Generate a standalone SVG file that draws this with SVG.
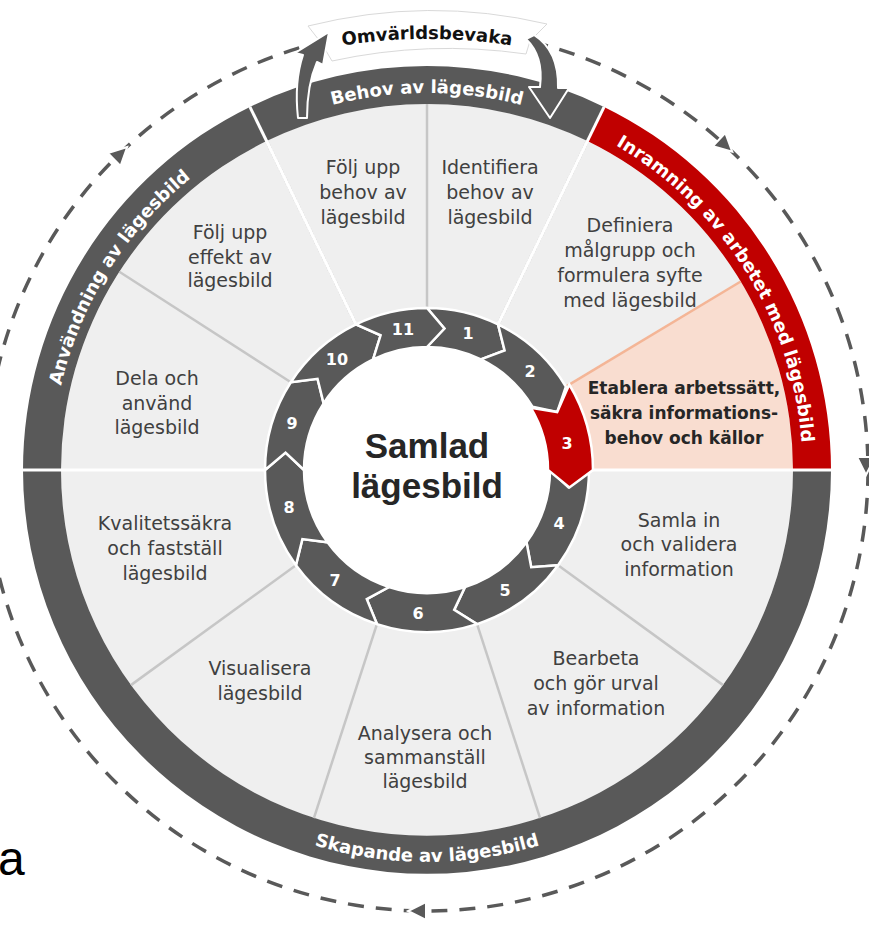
<svg xmlns="http://www.w3.org/2000/svg" xmlns:xlink="http://www.w3.org/1999/xlink" width="869" height="928" viewBox="0 0 869 928">
<defs>
<style>
.band{fill:#595959}
.redband{fill:#c00000}
.arw{fill:#595959;stroke:#fff;stroke-width:2.5;stroke-linejoin:miter}
.arwred{fill:#c00000;stroke:#fff;stroke-width:2.5;stroke-linejoin:miter}
.div{stroke:#c6c6c6;stroke-width:2.5;fill:none}
.wdiv{stroke:#fff;stroke-width:3;fill:none}
.dot{stroke:#d2d2d2;stroke-width:3.5;stroke-dasharray:1.5 1.5;fill:none}
.seg{font-family:"DejaVu Sans",sans-serif;font-size:19px;fill:#404040;text-anchor:middle}
.segb{font-family:"DejaVu Sans",sans-serif;font-size:17px;font-weight:bold;fill:#262626;text-anchor:middle}
.num{font-family:"DejaVu Sans",sans-serif;font-weight:bold;font-size:16px;fill:#fff;text-anchor:middle}
.bt{font-family:"DejaVu Sans",sans-serif;font-weight:bold;font-size:18px;fill:#fff}
.tri{fill:#595959;stroke:#fff;stroke-width:2}
</style>
<path id="pTop" d="M 50 470 A 377 377 0 0 1 804 470"/>
<path id="pRight" d="M 227.22 150.29 A 377 377 0 0 1 626.78 789.71"/>
<path id="pLeft" d="M 227.22 789.71 A 377 377 0 0 1 626.78 150.29"/>
<path id="pBottom" d="M 35 470 A 392 392 0 0 0 819 470"/>
<path id="pOmv" d="M 158 111 A 538 538 0 0 1 696 111"/>
<polygon id="tri" points="10,0 -8,-9 -8,9"/>
</defs>
<rect width="869" height="928" fill="#fff"/>

<g id="connectors">
<circle cx="427" cy="470" r="441" fill="none" stroke="#595959" stroke-width="3.5" stroke-dasharray="16 12"/>
<use xlink:href="#tri" class="tri" transform="translate(120,154) rotate(-44)"/>
<use xlink:href="#tri" class="tri" transform="translate(725,145) rotate(43)"/>
<use xlink:href="#tri" class="tri" transform="translate(866,465) rotate(90)"/>
<use xlink:href="#tri" class="tri" transform="translate(418,911) rotate(180)"/>
</g>

<g id="wheel-background">
<circle cx="427" cy="470" r="366" fill="#efefef"/>
<path d="M 427 470 L 740.72 281.50 A 366 366 0 0 1 793 470 Z" fill="#f9ddd0"/>
<path class="band" d="M 249.90 106.89 A 404 404 0 0 1 604.10 106.89 L 587.44 141.04 A 366 366 0 0 0 266.56 141.04 Z"/>
<path class="redband" d="M 604.10 106.89 A 404 404 0 0 1 831 470 L 793 470 A 366 366 0 0 0 587.44 141.04 Z"/>
<path class="band" d="M 831 470 A 404 404 0 0 1 23 470 L 61 470 A 366 366 0 0 0 793 470 Z"/>
<path class="band" d="M 23 470 A 404 404 0 0 1 249.90 106.89 L 266.56 141.04 A 366 366 0 0 0 61 470 Z"/>
<line class="div" x1="427" y1="308" x2="427" y2="104"/>
<line class="dot" x1="498.02" y1="324.40" x2="587.44" y2="141.04"/>
<line class="wdiv" x1="498.02" y1="324.40" x2="604.10" y2="106.89" stroke-width="2"/>
<line class="dot" x1="355.98" y1="324.40" x2="266.56" y2="141.04"/>
<line class="wdiv" x1="355.98" y1="324.40" x2="249.90" y2="106.89" stroke-width="2"/>
<line x1="565.86" y1="386.56" x2="740.72" y2="281.50" stroke="#f4b596" stroke-width="2.5"/>
<line class="wdiv" x1="589" y1="470" x2="833" y2="470"/>
<line class="wdiv" x1="265" y1="470" x2="21" y2="470"/>
<line class="div" x1="558.06" y1="565.22" x2="723.10" y2="685.13"/>
<line class="div" x1="477.06" y1="624.07" x2="540.10" y2="818.09"/>
<line class="div" x1="376.94" y1="624.07" x2="313.90" y2="818.09"/>
<line class="div" x1="295.94" y1="565.22" x2="130.90" y2="685.13"/>
<line class="div" x1="290.83" y1="382.24" x2="119.35" y2="271.73"/>
<circle cx="427" cy="470" r="123" fill="#fff"/>
</g>

<g id="band-labels">
<text class="bt"><textPath xlink:href="#pTop" startOffset="50%" text-anchor="middle">Behov av lägesbild</textPath></text>
<text class="bt"><textPath xlink:href="#pRight" startOffset="50%" text-anchor="middle">Inramning av arbetet med lägesbild</textPath></text>
<text class="bt"><textPath xlink:href="#pLeft" startOffset="50%" text-anchor="middle">Användning av lägesbild</textPath></text>
<text class="bt"><textPath xlink:href="#pBottom" startOffset="50%" text-anchor="middle">Skapande av lägesbild</textPath></text>
</g>

<g id="step1">
<path class="arw" d="M 427 308 A 162 162 0 0 1 498.02 324.40 L 504.61 350.49 L 480.92 359.45 A 123 123 0 0 0 427 347 L 444.37 328.56 Z"/>
<text class="num" x="468" y="339">1</text>
<text class="seg" x="490" y="173.5">Identifiera</text>
<text class="seg" x="490" y="198.5">behov av</text>
<text class="seg" x="490" y="223.5">lägesbild</text>
</g>
<g id="step2">
<path class="arw" d="M 498.02 324.40 A 162 162 0 0 1 565.86 386.56 L 557.18 412.04 L 532.43 406.65 A 123 123 0 0 0 480.92 359.45 L 504.61 350.49 Z"/>
<text class="num" x="530" y="377">2</text>
<text class="seg" x="630" y="231.5">Definiera</text>
<text class="seg" x="630" y="256.5">målgrupp och</text>
<text class="seg" x="630" y="281.5">formulera syfte</text>
<text class="seg" x="630" y="306.5">med lägesbild</text>
</g>
<g id="step4">
<path class="arw" d="M 589 470 A 162 162 0 0 1 558.06 565.22 L 531.22 567.19 L 526.51 542.30 A 123 123 0 0 0 550 470 L 568.44 487.37 Z"/>
<text class="num" x="559" y="529">4</text>
<text class="seg" x="679" y="526.5">Samla in</text>
<text class="seg" x="679" y="551">och validera</text>
<text class="seg" x="679" y="575.5">information</text>
</g>
<g id="step5">
<path class="arw" d="M 558.06 565.22 A 162 162 0 0 1 477.06 624.07 L 454.19 609.88 L 465.01 586.98 A 123 123 0 0 0 526.51 542.30 L 531.22 567.19 Z"/>
<text class="num" x="505" y="596">5</text>
<text class="seg" x="596" y="664.5">Bearbeta</text>
<text class="seg" x="596" y="689.5">och gör urval</text>
<text class="seg" x="596" y="714.5">av information</text>
</g>
<g id="step6">
<path class="arw" d="M 477.06 624.07 A 162 162 0 0 1 376.94 624.07 L 366.78 599.15 L 388.99 586.98 A 123 123 0 0 0 465.01 586.98 L 454.19 609.88 Z"/>
<text class="num" x="418" y="619">6</text>
<text class="seg" x="425" y="739.5">Analysera och</text>
<text class="seg" x="425" y="763.5">sammanställ</text>
<text class="seg" x="425" y="787.5">lägesbild</text>
</g>
<g id="step7">
<path class="arw" d="M 376.94 624.07 A 162 162 0 0 1 295.94 565.22 L 302.37 539.09 L 327.49 542.30 A 123 123 0 0 0 388.99 586.98 L 366.78 599.15 Z"/>
<text class="num" x="335" y="586">7</text>
<text class="seg" x="260" y="674.5">Visualisera</text>
<text class="seg" x="260" y="699.5">lägesbild</text>
</g>
<g id="step8">
<path class="arw" d="M 295.94 565.22 A 162 162 0 0 1 265 470 L 285.56 452.63 L 304 470 A 123 123 0 0 0 327.49 542.30 L 302.37 539.09 Z"/>
<text class="num" x="289" y="513">8</text>
<text class="seg" x="165" y="529.5">Kvalitetssäkra</text>
<text class="seg" x="165" y="554.5">och fastställ</text>
<text class="seg" x="165" y="579.5">lägesbild</text>
</g>
<g id="step9">
<path class="arw" d="M 265 470 A 162 162 0 0 1 290.83 382.24 L 317.52 378.78 L 323.61 403.37 A 123 123 0 0 0 304 470 L 285.56 452.63 Z"/>
<text class="num" x="292" y="429">9</text>
<text class="seg" x="157" y="384.5">Dela och</text>
<text class="seg" x="157" y="409.5">använd</text>
<text class="seg" x="157" y="433.5">lägesbild</text>
</g>
<g id="step10">
<path class="arw" d="M 290.83 382.24 A 162 162 0 0 1 355.98 324.40 L 380.61 335.26 L 373.08 359.45 A 123 123 0 0 0 323.61 403.37 L 317.52 378.78 Z"/>
<text class="num" x="337" y="365">10</text>
<text class="seg" x="230" y="238.5">Följ upp</text>
<text class="seg" x="230" y="263.5">effekt av</text>
<text class="seg" x="230" y="286.5">lägesbild</text>
</g>
<g id="step11">
<path class="arw" d="M 355.98 324.40 A 162 162 0 0 1 427 308 L 444.37 328.56 L 427 347 A 123 123 0 0 0 373.08 359.45 L 380.61 335.26 Z"/>
<text class="num" x="403" y="335">11</text>
<text class="seg" x="363" y="173.5">Följ upp</text>
<text class="seg" x="363" y="198.5">behov av</text>
<text class="seg" x="363" y="223.5">lägesbild</text>
</g>
<g id="step3">
<path class="arwred" d="M 569.29 384.50 A 166 166 0 0 1 593 470 L 569.43 487.49 L 548 470 A 121 121 0 0 0 530.72 407.68 L 557.18 412.04 Z"/>
<text class="num" x="567" y="449">3</text>
<text class="segb" x="684" y="394">Etablera arbetssätt,</text>
<text class="segb" x="684" y="419">säkra informations-</text>
<text class="segb" x="684" y="444">behov och källor</text>
</g>

<g id="center">
<text x="427" y="458" font-family="'Liberation Sans',Arial,sans-serif" font-weight="bold" font-size="35" fill="#262626" text-anchor="middle">Samlad</text>
<text x="427" y="498" font-family="'Liberation Sans',Arial,sans-serif" font-weight="bold" font-size="35" fill="#262626" text-anchor="middle">lägesbild</text>
</g>

<g id="omvarldsbevaka">
<path d="M 308 26 Q 428 -4 547 24 L 530 41 L 526 54 Q 428 40 332 61 L 322 44 Z" fill="#fff" stroke="#d9d9d9" stroke-width="1"/>
<text font-family="'DejaVu Sans',sans-serif" font-weight="bold" font-size="18" fill="#111"><textPath xlink:href="#pOmv" startOffset="50%" text-anchor="middle">Omvärldsbevaka</textPath></text>
<path d="M 329 32 L 323 65 L 317 62 Q 307 85 307 118 L 298 118 Q 294 82 303 55 L 295 53 Z" fill="#595959" stroke="#fff" stroke-width="2" stroke-linejoin="round"/>
<path d="M 526 39 Q 544 56 540 87 L 529 87 L 550 118 L 569 88 L 558 88 Q 559 51 534 35 Z" fill="#595959" stroke="#fff" stroke-width="2" stroke-linejoin="round"/>
</g>

<text x="-2" y="875" font-family="'Liberation Sans',Arial,sans-serif" font-size="48" fill="#000">a</text>
</svg>
